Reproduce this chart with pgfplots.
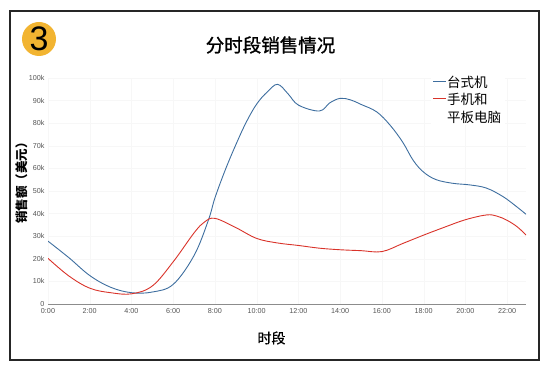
\documentclass[border=0pt]{standalone}
\usepackage{fontspec}
\setmainfont{Liberation Sans}
\newfontfamily\cjk{Noto Sans CJK SC}
\newfontfamily\cjkm[FakeBold=1.2]{Noto Sans CJK SC}
\newfontfamily\cjkl[FakeBold=0.5]{Noto Sans CJK SC}
\usepackage{pgfplots}
\pgfplotsset{compat=1.18}
\definecolor{cblue}{HTML}{3E6E9F}
\definecolor{cred}{HTML}{D9332A}
\definecolor{cgold}{HTML}{F2B431}
\definecolor{ctick}{HTML}{555555}
\begin{document}
\begin{tikzpicture}
\path[use as bounding box] (0pt,0pt) rectangle (552pt,375pt);
\begin{axis}[
  at={(48pt,71pt)}, anchor=south west,
  scale only axis, width=478pt, height=226pt,
  xmin=0, xmax=22.9, ymin=0, ymax=100000,
  axis x line*=bottom, axis y line*=left,
  y axis line style={draw=none},
  x axis line style={draw=black!45, line width=0.6pt, -},
  major tick length=0pt,
  scaled y ticks=false,
  xtick={0,2,...,22},
  xticklabels={0:00,2:00,4:00,6:00,8:00,10:00,12:00,14:00,16:00,18:00,20:00,22:00},
  ytick={0,10000,20000,30000,40000,50000,60000,70000,80000,90000,100000},
  yticklabels={0,10k,20k,30k,40k,50k,60k,70k,80k,90k,100k},
  tick label style={font=\fontsize{7.2}{8}\selectfont, text=ctick},
  xticklabel style={yshift=-1pt},
  grid=major, grid style={black!3},
]
\addplot[cblue, line width=0.9pt, smooth, tension=0.6] coordinates {
(0,27800) (1,20500) (2,12600) (3,7400) (4,5000) (5,5300) (6,8700) (7,21500)
(7.68,37000) (8,47000) (8.5,59500) (9,70500) (9.5,80500) (10,88500) (10.5,93800)
(11,97200) (11.5,93000) (12,88000) (13,85400) (13.5,89000) (14,91000) (14.5,90300)
(15,88300) (15.75,85000) (16.4,79000) (17,71500) (17.5,63500) (18,58300) (18.6,55000)
(19.4,53400) (20.2,52700) (21,51300) (21.8,47500) (22.46,43000) (22.9,39700)};
\addplot[cred, line width=0.9pt, smooth, tension=0.6] coordinates {
(0,20200) (1,12400) (2,7000) (3,5000) (4,4500) (5,8000) (6,18700) (7,31500)
(7.5,36300) (8,37900) (9,33800) (10,29000) (11,27000) (12,25900) (13,24700)
(14,24000) (15,23600) (16,23200) (17,26800) (18,30500) (19,34000) (20,37300)
(21,39400) (21.5,38900) (22,37000) (22.5,34000) (22.9,30500)};
\end{axis}
\begin{scope}[x=1pt,y=1pt]
\draw[line width=1.2pt, color=black!85] (10,364) rectangle (539,15);
\fill[cgold] (39,336) circle (17);
\node[font=\fontsize{34}{34}\selectfont, inner sep=0pt] at (39,336) {3};
\node[font=\cjkm\fontsize{18.5}{20}\selectfont] at (270.5,330) {分时段销售情况};
\node[font=\cjk\bfseries\fontsize{12.5}{14}\selectfont, rotate=90] at (22,195) {销售额（美元）};
\node[font=\cjkl\fontsize{14}{16}\selectfont] at (271.5,37) {时段};
\fill[white] (431,250) rectangle (505,302);
\draw[cblue, line width=0.9pt] (433,294) -- (446,294);
\draw[cred, line width=0.9pt] (433,277) -- (446,277);
\node[font=\cjk\fontsize{13.5}{16}\selectfont, anchor=west, inner sep=0pt] at (447,293) {台式机};
\node[font=\cjk\fontsize{13.5}{16}\selectfont, anchor=west, inner sep=0pt] at (447,276) {手机和};
\node[font=\cjk\fontsize{13.5}{16}\selectfont, anchor=west, inner sep=0pt] at (447,257.5) {平板电脑};
\end{scope}
\end{tikzpicture}
\end{document}
